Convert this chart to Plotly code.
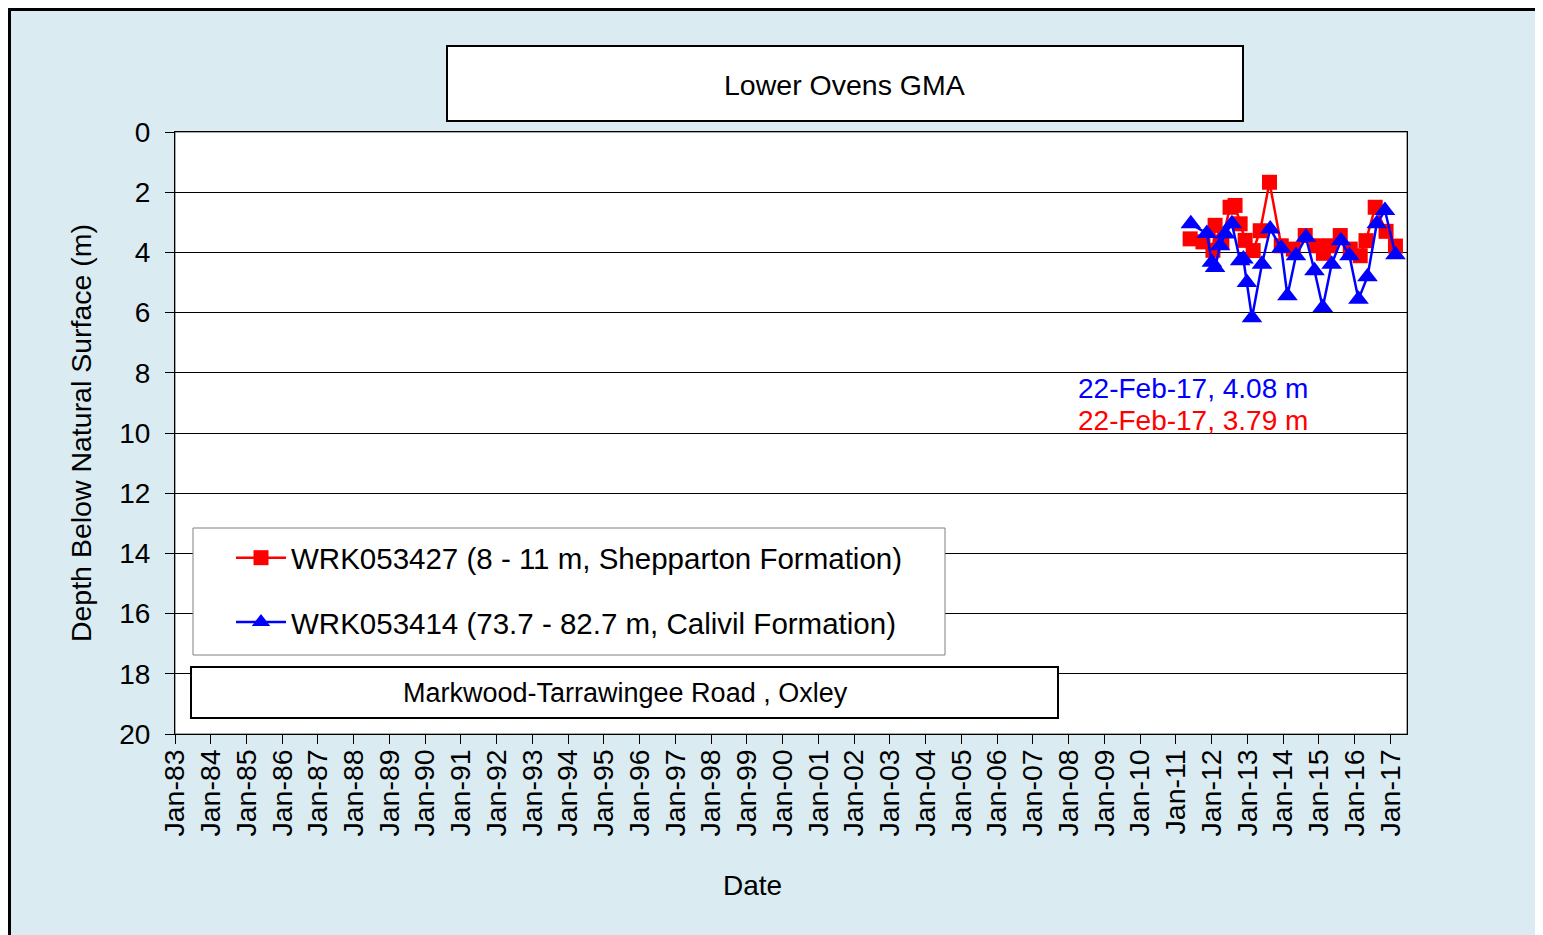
import plotly.graph_objects as go

# ---- data ----
red_dates = ["2011-05-27", "2011-10-05", "2012-01-15", "2012-02-06", "2012-04-15", "2012-07-08",
             "2012-08-28", "2012-10-19", "2012-12-09", "2013-03-01", "2013-05-12", "2013-08-15",
             "2013-12-13", "2014-04-15", "2014-08-15", "2014-12-09", "2015-02-17", "2015-04-27",
             "2015-08-08", "2015-11-18", "2016-02-28", "2016-04-27", "2016-07-30", "2016-11-18",
             "2017-02-22"]
red_depth = [3.55, 3.65, 3.93, 3.1, 3.65, 2.5, 2.44, 3.05, 3.6, 3.94, 3.28, 1.67,
             3.78, 3.89, 3.44, 3.78, 4.03, 3.78, 3.44, 3.89, 4.11, 3.61, 2.5, 3.3, 3.79]

blue_dates = ["2011-06-03", "2011-11-14", "2012-01-04", "2012-02-06", "2012-03-28", "2012-05-19",
              "2012-07-27", "2012-10-19", "2012-11-21", "2012-12-27", "2013-02-17", "2013-05-30",
              "2013-08-22", "2013-12-13", "2014-02-14", "2014-05-12", "2014-08-22", "2014-11-18",
              "2015-02-10", "2015-05-12", "2015-08-15", "2015-11-10", "2016-02-10", "2016-05-12",
              "2016-08-15", "2016-11-07", "2017-02-22"]
blue_depth = [3.05, 3.37, 4.33, 4.5, 3.78, 3.39, 3.05, 4.28, 4.22, 5.0, 6.17, 4.39,
              3.22, 3.86, 5.44, 4.11, 3.5, 4.61, 5.83, 4.39, 3.61, 4.11, 5.56, 4.81,
              3.05, 2.61, 4.08]

red_name = "WRK053427 (8 - 11 m, Shepparton Formation)"
blue_name = "WRK053414 (73.7 - 82.7 m, Calivil Formation)"
title_text = "Lower Ovens GMA"
site_text = "Markwood-Tarrawingee Road , Oxley"
blue_label = "22-Feb-17, 4.08 m"
red_label = "22-Feb-17, 3.79 m"
x_title = "Date"
y_title = "Depth Below Natural Surface (m)"

# ---- layout geometry (page pixels; figure sits 8px in from the page corner) ----
OFF = 8
W, H = 1543 - OFF, 935 - OFF
L, R, T, B = 175, 1407, 132, 734   # plot area in page pixels
BG = "#DAECF2"
FONT = "Liberation Sans, Arial, sans-serif"


def px(x):
    return (x - L) / (R - L)


def py(y):
    return (B - y) / (B - T)


fig = go.Figure()
fig.add_trace(go.Scatter(x=red_dates, y=red_depth, mode="lines+markers", name=red_name,
                         legendgroup="r",
                         line=dict(color="#FF0000", width=2.5),
                         marker=dict(symbol="square", size=15, color="#FF0000")))
fig.add_trace(go.Scatter(x=blue_dates, y=blue_depth, mode="lines+markers", name=blue_name,
                         legendgroup="b",
                         line=dict(color="#0000FF", width=2.5),
                         marker=dict(symbol="triangle-up", size=18, color="#0000FF")))

shapes = [
    # outer chart area
    dict(type="rect", xref="paper", yref="paper", x0=px(OFF + 1.5), x1=px(1538.5),
         y0=py(980), y1=py(OFF + 1.5),
         fillcolor=BG, line=dict(color="black", width=3), layer="below"),
    # plot area
    dict(type="rect", xref="paper", yref="paper", x0=0, x1=1, y0=0, y1=1,
         fillcolor="white", line=dict(color="#555555", width=1), layer="below"),
    # title box
    dict(type="rect", xref="paper", yref="paper", x0=px(447), x1=px(1243), y0=py(121), y1=py(46),
         fillcolor="white", line=dict(color="black", width=2), layer="above"),
    # legend box
    dict(type="rect", xref="paper", yref="paper", x0=px(193), x1=px(945), y0=py(655), y1=py(528),
         fillcolor="white", line=dict(color="#808080", width=1), layer="above"),
    # site box
    dict(type="rect", xref="paper", yref="paper", x0=px(191), x1=px(1058), y0=py(718), y1=py(667),
         fillcolor="white", line=dict(color="black", width=2), layer="above"),
]

annotations = [
    dict(text=title_text, xref="paper", yref="paper", x=px(845), y=py(85), showarrow=False,
         font=dict(size=28.5, color="black", family=FONT), xanchor="center", yanchor="middle"),
    dict(text=site_text, xref="paper", yref="paper", x=px(625), y=py(693), showarrow=False,
         font=dict(size=27, color="black", family=FONT), xanchor="center", yanchor="middle"),
    dict(text=blue_label, xref="paper", yref="paper", x=px(1076), y=py(388), showarrow=False,
         font=dict(size=28, color="#0000FF", family=FONT), xanchor="left", yanchor="middle"),
    dict(text=red_label, xref="paper", yref="paper", x=px(1076), y=py(420), showarrow=False,
         font=dict(size=28, color="#FF0000", family=FONT), xanchor="left", yanchor="middle"),
    dict(text=x_title, xref="paper", yref="paper", x=px(752), y=py(886), showarrow=False,
         font=dict(size=28, color="black", family=FONT), xanchor="center", yanchor="middle"),
]

fig.update_layout(
    width=W, height=H,
    margin=dict(l=L - OFF, r=1543 - R, t=T - OFF, b=935 - B, autoexpand=False),
    paper_bgcolor="white",
    plot_bgcolor="rgba(0,0,0,0)",
    font=dict(family=FONT, size=28, color="black"),
    shapes=shapes,
    annotations=annotations,
    showlegend=True,
    legend=dict(x=px(231), y=py(532), xanchor="left", yanchor="top",
                bgcolor="rgba(0,0,0,0)", borderwidth=0,
                font=dict(size=29.5, family=FONT, color="black"),
                tracegroupgap=23, itemwidth=50),
    xaxis=dict(
        type="date",
        range=["1983-01-01", "2017-06-20"],
        tick0="1983-01-01", dtick="M12", tickformat="%b-%y",
        tickangle=-90, ticks="outside", ticklen=9, tickcolor="black",
        tickfont=dict(size=28.5, family=FONT, color="black"),
        ticklabelstandoff=-6,
        showgrid=False, showline=True, linecolor="black", linewidth=1, mirror=True,
        zeroline=False,
        automargin=False,
    ),
    yaxis=dict(
        range=[20, 0], dtick=2, tick0=0,
        ticks="outside", ticklen=9, tickcolor="black",
        tickfont=dict(size=28, family=FONT, color="black"),
        ticklabelstandoff=9,
        showgrid=True, gridcolor="black", gridwidth=1,
        showline=True, linecolor="black", linewidth=1, mirror=True,
        zeroline=False,
        title=dict(text=y_title,
                   font=dict(size=28.5, family=FONT, color="black"), standoff=19),
        automargin=False,
    ),
)

fig.write_html("out.html")
